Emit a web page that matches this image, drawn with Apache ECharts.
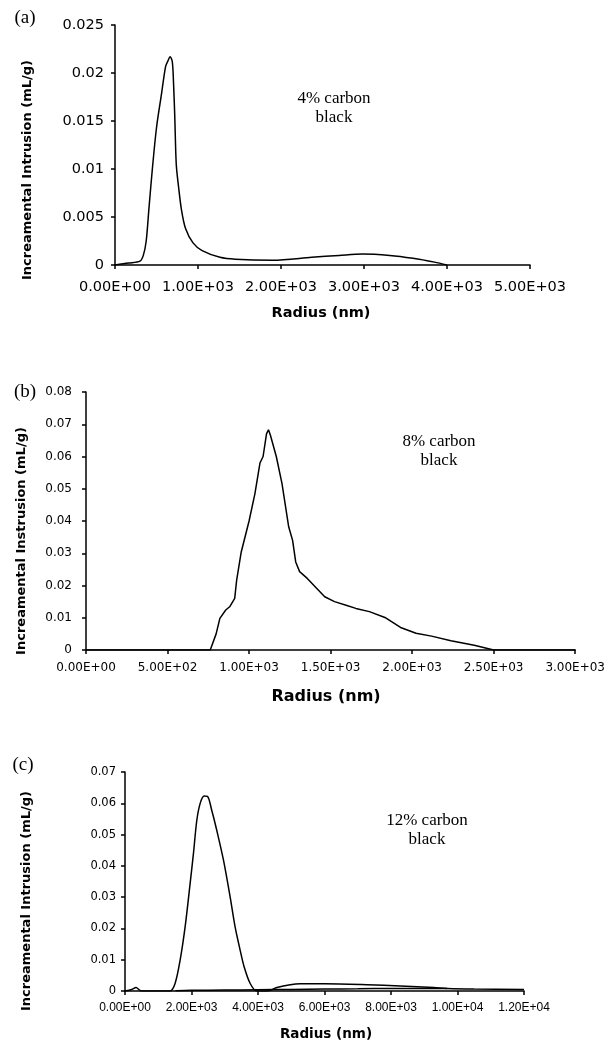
<!DOCTYPE html>
<html>
<head>
<meta charset="utf-8">
<script src="https://cdn.jsdelivr.net/npm/echarts@6/dist/echarts.min.js"></script>
<style>html,body{margin:0;padding:0;background:#fff}#c{width:608px;height:1043px}</style>
</head>
<body>
<div id="c"></div>
<script>
// Panel (a): 4% carbon black
const radiusA = [0, 164, 301, 341, 376, 410, 450, 500, 560, 610, 640, 663, 690, 705, 720, 738, 765, 800, 850, 940, 1050, 1265, 1450, 1900, 2370, 2700, 2980, 3310, 3590, 3850, 4000];
const intrA   = [0, 0.0002, 0.0004, 0.001, 0.0025, 0.006, 0.010, 0.0143, 0.0178, 0.0207, 0.0213, 0.0217, 0.0212, 0.019, 0.0155, 0.0105, 0.0082, 0.0058, 0.0038, 0.0023, 0.0015, 0.0008, 0.0006, 0.0005, 0.0008, 0.001, 0.00115, 0.001, 0.0007, 0.0003, 0];
// Panel (b): 8% carbon black
const radiusB = [0, 762, 798, 821, 857, 881, 912, 924, 952, 1000, 1036, 1067, 1086, 1107, 1119, 1131, 1167, 1202, 1243, 1267, 1286, 1310, 1357, 1417, 1464, 1524, 1595, 1655, 1738, 1833, 1929, 2024, 2119, 2238, 2381, 2500, 3000];
const intrB   = [0, 0, 0.005, 0.0098, 0.0124, 0.0134, 0.016, 0.0217, 0.0304, 0.040, 0.0485, 0.058, 0.060, 0.067, 0.0683, 0.0666, 0.060, 0.0516, 0.0382, 0.034, 0.0273, 0.0243, 0.0222, 0.019, 0.0165, 0.015, 0.0139, 0.0129, 0.0119, 0.0101, 0.007, 0.0052, 0.0043, 0.0029, 0.0015, 0, 0];
// Panel (c): 12% carbon black (main trace)
const radiusC = [0, 201, 331, 472, 1000, 1355, 1506, 1657, 1807, 1958, 2058, 2159, 2259, 2380, 2480, 2610, 2761, 2962, 3163, 3313, 3464, 3584, 3765, 3966, 4268, 4569, 4970, 5271, 6000, 7280, 8283, 9290, 9690, 10500, 12000];
const intrC   = [0, 0.0005, 0.0011, 0.0001, 0, 0, 0.0024, 0.0098, 0.0204, 0.0343, 0.0439, 0.0545, 0.0599, 0.0623, 0.0622, 0.0577, 0.0513, 0.0418, 0.030, 0.0204, 0.013, 0.0077, 0.0024, 0, 0, 0.0011, 0.002, 0.0023, 0.0023, 0.002, 0.0016, 0.0011, 0.0008, 0.0006, 0.0005];
// Panel (c): lower return trace
const radiusC2 = [1517, 2000, 3000, 3970, 5000, 6000, 7000, 8000, 9000, 9690];
const intrC2   = [0.0001, 0.0002, 0.0003, 0.0004, 0.0005, 0.0006, 0.0007, 0.0008, 0.0008, 0.0008];

const panelLabels = ['(a)', '(b)', '(c)'];
const notes = ['4% carbon\nblack', '8% carbon\nblack', '12% carbon\nblack'];
const yTitles = ['Increamental Intrusion (mL/g)', 'Increamental Instrusion (mL/g)', 'Increamental Intrusion (mL/g)'];
const xTitle = 'Radius (nm)';

function sci(v) {
  if (v === 0) return '0.00E+00';
  const e = Math.floor(Math.log10(Math.abs(v)) + 1e-9);
  const m = v / Math.pow(10, e);
  return m.toFixed(2) + 'E' + (e < 0 ? '-' : '+') + String(Math.abs(e)).padStart(2, '0');
}
function yfmt(v) { return String(+v.toFixed(4)); }
function zip(xs, ys) { return xs.map((x, i) => [x, ys[i]]); }

const axisLine = { show: true, onZero: false, lineStyle: { color: '#000', width: 1.5 } };
const axisTick = { show: true, inside: false, length: 4, lineStyle: { color: '#000', width: 1.5 } };

function xAx(idx, max, interval, font, size, margin) {
  return { type: 'value', gridIndex: idx, min: 0, max: max, interval: interval,
    axisLine: axisLine, axisTick: axisTick, splitLine: { show: false },
    axisLabel: { formatter: sci, color: '#000', fontFamily: font, fontSize: size, margin: margin, showMaxLabel: true, showMinLabel: true, hideOverlap: false } };
}
function yAx(idx, max, interval, font, size, margin) {
  return { type: 'value', gridIndex: idx, min: 0, max: max, interval: interval,
    axisLine: axisLine, axisTick: axisTick, splitLine: { show: false },
    axisLabel: { formatter: yfmt, color: '#000', fontFamily: font, fontSize: size, margin: margin } };
}
function ser(idx, data, smooth) {
  return { type: 'line', xAxisIndex: idx, yAxisIndex: idx, data: data, showSymbol: false, symbol: 'none',
    smooth: smooth, lineStyle: { color: '#000', width: 1.5 }, animation: false };
}
function txt(x, y, text, font, size, weight, rot) {
  return { type: 'text', x: x, y: y, rotation: rot || 0,
    style: { text: text, fill: '#000', font: (weight || 'normal') + ' ' + size + 'px ' + font, align: 'center', verticalAlign: 'middle', lineHeight: size * 1.15 } };
}

const chart = echarts.init(document.getElementById('c'), null, { renderer: 'canvas' });
chart.setOption({
  backgroundColor: '#fff',
  animation: false,
  grid: [
    { left: 115, top: 25, width: 415, height: 240 },
    { left: 86, top: 392, width: 491, height: 258 },
    { left: 125, top: 772, width: 399, height: 219 }
  ],
  xAxis: [
    xAx(0, 5000, 1000, 'DejaVu Sans', 14.5, 15),
    xAx(1, 3000, 500, 'DejaVu Sans', 12, 12),
    xAx(2, 12000, 2000, 'Liberation Sans', 12, 11)
  ],
  yAxis: [
    yAx(0, 0.025, 0.005, 'DejaVu Sans', 14.5, 11),
    yAx(1, 0.08, 0.01, 'DejaVu Sans', 12, 14),
    yAx(2, 0.07, 0.01, 'DejaVu Sans', 11.5, 9)
  ],
  series: [
    ser(0, zip(radiusA, intrA), 0.3),
    ser(1, zip(radiusB, intrB), false),
    ser(2, zip(radiusC, intrC), 0.3),
    ser(2, zip(radiusC2, intrC2), 0.3)
  ],
  graphic: [
    txt(25, 18, panelLabels[0], 'Liberation Serif', 19),
    txt(25, 392, panelLabels[1], 'Liberation Serif', 19),
    txt(23, 765, panelLabels[2], 'Liberation Serif', 19),
    txt(334, 108, notes[0], 'Liberation Serif', 17),
    txt(439, 451, notes[1], 'Liberation Serif', 17),
    txt(427, 830, notes[2], 'Liberation Serif', 17),
    txt(28, 170, yTitles[0], 'DejaVu Sans', 13, 'bold', Math.PI / 2),
    txt(22, 541, yTitles[1], 'DejaVu Sans', 13, 'bold', Math.PI / 2),
    txt(27, 901, yTitles[2], 'DejaVu Sans', 13, 'bold', Math.PI / 2),
    txt(321, 313, xTitle, 'DejaVu Sans', 14.5, 'bold'),
    txt(326, 697, xTitle, 'DejaVu Sans', 16, 'bold'),
    txt(326, 1034, xTitle, 'DejaVu Sans', 13.5, 'bold')
  ]
});
</script>
</body>
</html>
